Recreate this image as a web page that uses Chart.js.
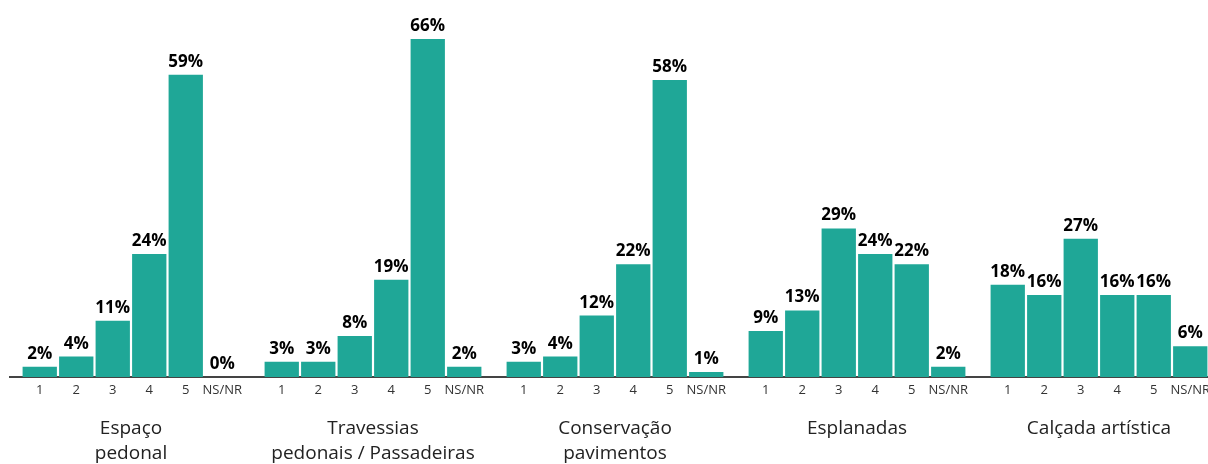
<!DOCTYPE html>
<html lang="pt">
<head>
<meta charset="UTF-8">
<title>Avaliação</title>
<script src="https://cdn.jsdelivr.net/npm/chart.js"></script>
<style>
  html, body { margin: 0; padding: 0; background: #fff; overflow: hidden; }
  #wrap { width: 1220px; height: 464px; }
</style>
</head>
<body>
<div id="wrap"><canvas id="myChart"></canvas></div>
<script>
// categorias (grupos) e classificações
const grupos = [['Espaço', 'pedonal'], ['Travessias', 'pedonais / Passadeiras'], ['Conservação', 'pavimentos'], 'Esplanadas', 'Calçada artística'];
const notas = ['1', '2', '3', '4', '5', 'NS/NR'];

// percentagens por nota (uma lista por nota, na ordem dos grupos)
const nota1 = [2, 3, 3, 9, 18];
const nota2 = [4, 3, 4, 13, 16];
const nota3 = [11, 8, 12, 29, 27];
const nota4 = [24, 19, 22, 24, 16];
const nota5 = [59, 66, 58, 22, 16];
const nsnr  = [0, 2, 1, 2, 6];

const series = [nota1, nota2, nota3, nota4, nota5, nsnr];
const cor = '#1fa797';
const fonte = "'Open Sans', 'Noto Sans', sans-serif";

// rótulos dos valores por cima das barras e das notas por baixo
const rotulos = {
    id: 'rotulos',
    afterDatasetsDraw(chart) {
        const ctx = chart.ctx;
        const base = chart.chartArea.bottom;
        ctx.save();
        ctx.textAlign = 'center';
        chart.data.datasets.forEach((ds, i) => {
            const meta = chart.getDatasetMeta(i);
            meta.data.forEach((bar, j) => {
                ctx.fillStyle = '#000';
                ctx.font = 'bold 17px ' + fonte;
                ctx.textBaseline = 'alphabetic';
                ctx.fillText(ds.data[j] + '%', bar.x, bar.y - 8);
                ctx.fillStyle = '#333';
                ctx.font = '13px ' + fonte;
                ctx.textBaseline = 'middle';
                ctx.fillText(ds.label, bar.x, base + 13);
            });
        });
        ctx.restore();
    }
};

new Chart(document.getElementById('myChart'), {
    type: 'bar',
    data: {
        labels: grupos,
        datasets: series.map((s, i) => ({
            label: notas[i],
            data: s,
            backgroundColor: cor,
            categoryPercentage: 0.905,
            barPercentage: 0.94
        }))
    },
    options: {
        responsive: true,
        maintainAspectRatio: false,
        animation: false,
        layout: { padding: { left: 10, right: 0, top: 0, bottom: 0 } },
        plugins: { legend: { display: false }, tooltip: { enabled: false } },
        scales: {
            x: {
                grid: { display: false, drawTicks: false },
                border: { display: true, color: '#444', width: 2 },
                afterFit(scale) { scale.height = 87; },
                ticks: {
                    padding: 39,
                    color: '#222',
                    maxRotation: 0,
                    autoSkip: false,
                    font: { family: fonte, size: 19, lineHeight: 1.32 }
                }
            },
            y: {
                display: false,
                min: 0,
                max: 73.6
            }
        }
    },
    plugins: [rotulos]
});
</script>
</body>
</html>
